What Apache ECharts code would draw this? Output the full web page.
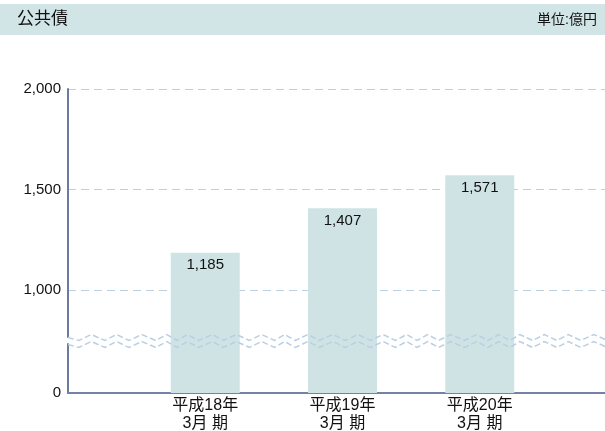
<!DOCTYPE html>
<html>
<head>
<meta charset="utf-8">
<script src="https://cdn.jsdelivr.net/npm/echarts@6/dist/echarts.min.js"></script>
<style>
    html, body { margin: 0; padding: 0; background: #fff; }
    #main { width: 605px; height: 431px; }
</style>
</head>
<body>
<div id="main"></div>
<script>
// 数据
var categories = ['', '平成18年\n3月 期', '平成19年\n3月 期', '平成20年\n3月 期', '']
var values = [null, 1185, 1407, 1571, null]
var yTicks = [0, 1000, 1500, 2000]

var FONT = '"Liberation Sans", "Noto Sans CJK JP", sans-serif'

// 千位分隔
function fmt(v) {
    return String(v).replace(/\B(?=(\d{3})+(?!\d))/g, ',')
}

(function () {
    var myChart = echarts.init(document.getElementById('main'))
    var option = {
        animation: false,
        textStyle: { fontFamily: FONT },
        // 顶部标题栏
        graphic: [{
            type: 'rect',
            left: 0,
            top: 4,
            shape: { width: 605, height: 31 },
            style: { fill: '#d1e4e6' },
            z: 0
        }, {
            type: 'text',
            left: 17,
            top: 11,
            style: { text: '公共債', fontSize: 17, fill: '#111', fontFamily: FONT },
            z: 1
        }, {
            type: 'text',
            right: 8,
            top: 13,
            style: { text: '単位:億円', fontSize: 14, fill: '#111', fontFamily: FONT },
            z: 1
        }],
        grid: {
            left: 68,
            right: -12,
            top: 89,
            bottom: 38,
            outerBoundsMode: 'none'
        },
        xAxis: {
            type: 'category',
            data: categories,
            boundaryGap: false,
            axisTick: { show: false },
            axisLine: { lineStyle: { color: '#7482a8', width: 2 } },
            axisLabel: {
                color: '#111',
                fontSize: 16,
                lineHeight: 18,
                margin: 4,
                interval: 0
            }
        },
        yAxis: {
            type: 'value',
            min: 0,
            max: 2000,
            interval: 500,
            // 断轴
            breaks: [{ start: 244, end: 766, gap: 35 }],
            breakArea: {
                show: true,
                itemStyle: {
                    color: 'rgba(255,255,255,0)',
                    borderColor: '#b9cfe3',
                    borderWidth: 1.5,
                    borderType: [6, 3]
                },
                zigzagAmplitude: 3,
                zigzagMinSpan: 10,
                zigzagMaxSpan: 14,
                expandOnClick: false
            },
            axisTick: { show: false, customValues: yTicks },
            axisLine: { show: true, lineStyle: { color: '#6b7aa1', width: 2 } },
            axisLabel: {
                color: '#111',
                fontSize: 15,
                margin: 7,
                customValues: yTicks,
                formatter: function (v) {
                    return yTicks.indexOf(v) >= 0 ? fmt(v) : ''
                }
            },
            splitLine: {
                lineStyle: { color: '#bcd0e3', width: 1, type: [8, 5] }
            }
        },
        series: [{
            type: 'bar',
            data: values,
            barWidth: 69,
            itemStyle: { color: '#cfe3e5' },
            label: {
                show: true,
                position: 'insideTop',
                distance: 5,
                color: '#111',
                fontSize: 15,
                formatter: function (p) { return fmt(p.value) }
            }
        }]
    }
    myChart.setOption(option)
})()
</script>
</body>
</html>
